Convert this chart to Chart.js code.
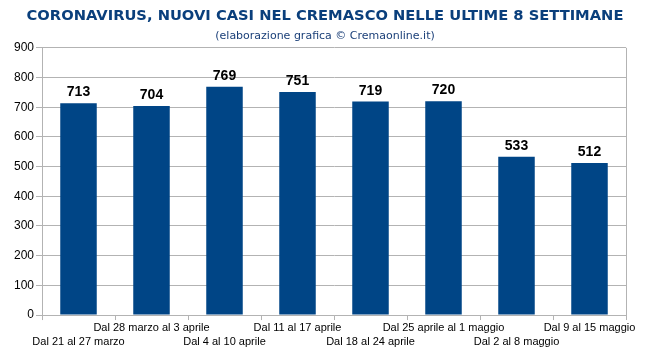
<!DOCTYPE html>
<html>
<head>
<meta charset="utf-8">
<script src="https://cdn.jsdelivr.net/npm/chart.js@4"></script>
<style>
    html, body { margin: 0; padding: 0; background: #fff; }
    #box { width: 650px; height: 351px; }
</style>
</head>
<body>
<div id="box"><canvas id="casiChart"></canvas></div>
<script>
// Data
const weeks = [
    'Dal 21 al 27 marzo',
    'Dal 28 marzo al 3 aprile',
    'Dal 4 al 10 aprile',
    'Dal 11 al 17 aprile',
    'Dal 18 al 24 aprile',
    'Dal 25 aprile al 1 maggio',
    'Dal 2 al 8 maggio',
    'Dal 9 al 15 maggio'
];
const newCases = [713, 704, 769, 751, 719, 720, 533, 512];
const yTicks = [0, 100, 200, 300, 400, 500, 600, 700, 800, 900];

const BLUE = '#004586';
const GRID = '#b3b3b3';

// Values above the bars + right frame line
const barValues = {
    id: 'barValues',
    afterDatasetsDraw(chart) {
        const ctx = chart.ctx;
        const meta = chart.getDatasetMeta(0);
        ctx.save();
        ctx.font = 'bold 14px "Liberation Sans", Arial, sans-serif';
        ctx.fillStyle = '#000';
        ctx.textAlign = 'center';
        ctx.textBaseline = 'alphabetic';
        meta.data.forEach((bar, i) => {
            ctx.fillText(newCases[i], bar.x, bar.y - 7);
        });
        // right border of the plot area
        const a = chart.chartArea;
        ctx.strokeStyle = GRID;
        ctx.lineWidth = 1;
        ctx.beginPath();
        ctx.moveTo(Math.round(a.right) + 0.5, a.top);
        ctx.lineTo(Math.round(a.right) + 0.5, a.bottom);
        ctx.stroke();
        ctx.restore();
    }
};

new Chart(document.getElementById('casiChart'), {
    type: 'bar',
    data: {
        labels: weeks,
        datasets: [{
            data: newCases,
            backgroundColor: BLUE,
            borderWidth: 0,
            barPercentage: 0.5,
            categoryPercentage: 1
        }]
    },
    options: {
        responsive: true,
        maintainAspectRatio: false,
        animation: false,
        layout: { padding: { left: 0, right: 0, top: 0, bottom: 1 } },
        plugins: {
            legend: { display: false },
            tooltip: { enabled: false },
            title: {
                display: true,
                text: 'CORONAVIRUS, NUOVI CASI NEL CREMASCO NELLE ULTIME 8 SETTIMANE',
                color: '#0a3f7c',
                font: { family: '"DejaVu Sans"', size: 14.7, weight: 'bold', lineHeight: 1.2 },
                padding: { top: 7.5, bottom: 0.5 }
            },
            subtitle: {
                display: true,
                text: '(elaborazione grafica \u00a9 Cremaonline.it)',
                color: '#1a3f78',
                font: { family: '"DejaVu Sans"', size: 11, lineHeight: 1.2 },
                padding: { top: 4, bottom: 5 }
            }
        },
        scales: {
            x: {
                grid: {
                    display: true,
                    drawOnChartArea: false,
                    drawTicks: true,
                    tickLength: 5,
                    color: GRID,
                    offset: true
                },
                border: { color: GRID },
                ticks: {
                    autoSkip: false,
                    maxRotation: 0,
                    minRotation: 0,
                    padding: 1,
                    color: '#000',
                    font: { family: '"Liberation Sans", Arial, sans-serif', size: 11, lineHeight: 1.27 },
                    callback: (val, i) => (i % 2 === 0 ? ['', weeks[i]] : weeks[i])
                }
            },
            y: {
                min: 0,
                max: 900,
                afterBuildTicks: scale => { scale.ticks = yTicks.map(v => ({ value: v })); },
                afterFit: scale => { scale.width = 42; },
                grid: { color: GRID, tickLength: 6 },
                border: { color: GRID },
                ticks: {
                    padding: 2,
                    color: '#000',
                    font: { family: '"Liberation Sans", Arial, sans-serif', size: 12 }
                }
            },
            // empty axis that only keeps the right margin free
            yRight: {
                position: 'right',
                display: true,
                afterFit: scale => { scale.width = 24; },
                grid: { display: false },
                border: { display: false },
                ticks: { display: false }
            }
        }
    },
    plugins: [barValues]
});
</script>
</body>
</html>
